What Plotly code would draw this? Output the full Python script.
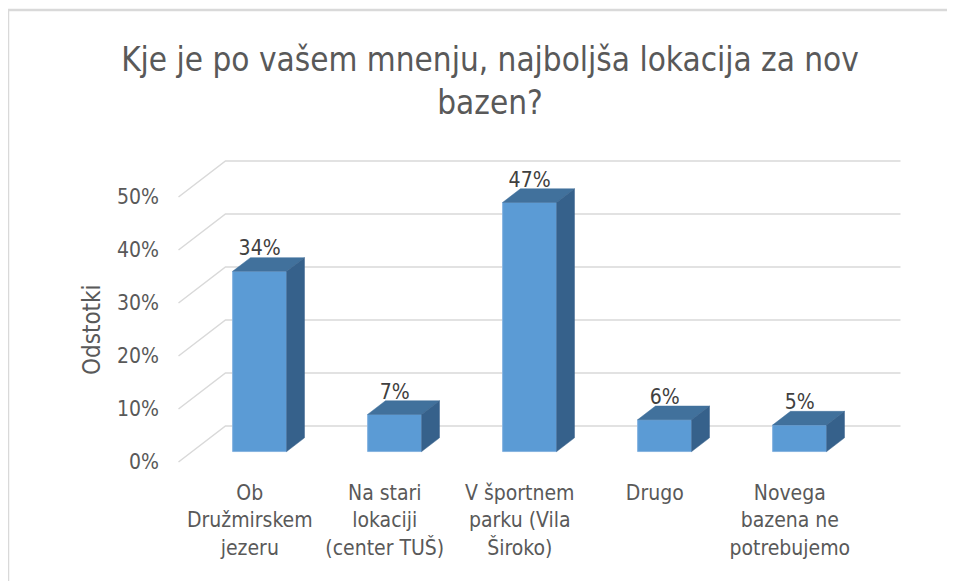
import plotly.graph_objects as go

# ---- data ----
categories = ["Ob<br>Družmirskem<br>jezeru",
              "Na stari<br>lokaciji<br>(center TUŠ)",
              "V športnem<br>parku (Vila<br>Široko)",
              "Drugo",
              "Novega<br>bazena ne<br>potrebujemo"]
values = [34, 7, 47, 6, 5]
tick_values = [0, 10, 20, 30, 40, 50]
tick_labels = ["0%", "10%", "20%", "30%", "40%", "50%"]
title_text = "Kje je po vašem mnenju, najboljša lokacija za nov<br>bazen?"
y_title = "Odstotki"

# ---- 3D geometry (in axis units) ----
DEPTH_X = 0.348      # full floor depth, x direction (category units)
DEPTH_Y = 6.8        # full floor depth, y direction (percent units)
F_FRONT = 0.29       # bar front face depth fraction
F_BACK = 0.67        # bar back face depth fraction
BAR_W = 0.40
X_LEFT, X_RIGHT = -0.5, 4.5
LABEL_SHIFT = 0.028  # category label offset (category units)

FONT = "Liberation Sans Narrow, Arial Narrow, DejaVu Sans Condensed, sans-serif"
GRID = "#D9D9D9"
TXT = "#595959"

fig = go.Figure()

# side wall diagonals + back wall horizontal gridlines
gx, gy = [], []
for v in tick_values:
    gx += [X_LEFT, X_LEFT + DEPTH_X, X_RIGHT + DEPTH_X, None]
    gy += [v, v + DEPTH_Y, v + DEPTH_Y, None]
fig.add_trace(go.Scatter(x=gx, y=gy, mode="lines",
                         line=dict(color=GRID, width=1.5),
                         hoverinfo="skip", showlegend=False))

ox = F_FRONT * DEPTH_X
oy = F_FRONT * DEPTH_Y
dx = (F_BACK - F_FRONT) * DEPTH_X
dy = (F_BACK - F_FRONT) * DEPTH_Y

xs = [i + ox for i in range(len(values))]

# front, top and side faces
fx, fy, tx, ty, sx, sy = [], [], [], [], [], []
for xc, v in zip(xs, values):
    xl, xr = xc - BAR_W / 2, xc + BAR_W / 2
    top = oy + v
    fx += [xl, xr, xr, xl, xl, None]
    fy += [oy, oy, top, top, oy, None]
    tx += [xl, xr, xr + dx, xl + dx, xl, None]
    ty += [top, top, top + dy, top + dy, top, None]
    sx += [xr, xr + dx, xr + dx, xr, xr, None]
    sy += [oy, oy + dy, top + dy, top, oy, None]
fig.add_trace(go.Scatter(x=fx, y=fy, mode="lines", fill="toself",
                         fillcolor="#5B9BD5", line=dict(color="#86B3E0", width=1),
                         hoverinfo="skip", showlegend=False))
fig.add_trace(go.Scatter(x=tx, y=ty, mode="lines", fill="toself",
                         fillcolor="#41719C", line=dict(color="#41719C", width=0.5),
                         hoverinfo="skip", showlegend=False))
fig.add_trace(go.Scatter(x=sx, y=sy, mode="lines", fill="toself",
                         fillcolor="#36618B", line=dict(color="#36618B", width=0.5),
                         hoverinfo="skip", showlegend=False))

# data labels
fig.add_trace(go.Scatter(x=xs, y=[oy + v + dy + 1.4 for v in values], mode="text",
                         text=[f"{v}%" for v in values], textposition="middle center",
                         textfont=dict(family=FONT, size=21, color="#404040"),
                         hoverinfo="skip", showlegend=False))

# page has an 8px body margin; figure placed at (8, 8)
OFF = 8
W, H = 955 - OFF, 581 - OFF
# plot area in page px: x 170..910, y 150..470
L, R, T, B = 170 - OFF, W - (910 - OFF), 150 - OFF, H - (470 - OFF)
pw, ph = W - L - R, H - T - B

def px(xp):  # page x -> paper
    return (xp - OFF - L) / pw

def py(yp):  # page y -> paper
    return (H - B - (yp - OFF)) / ph

fig.update_layout(
    width=W, height=H, autosize=False,
    margin=dict(l=L, r=R, t=T, b=B, pad=0),
    paper_bgcolor="white", plot_bgcolor="white",
    font=dict(family=FONT, color=TXT),
    title=dict(text=title_text, x=(490 - OFF) / W, xref="container", xanchor="center",
               y=1 - 63 / H, yref="container", yanchor="top",
               font=dict(family=FONT, size=33, color=TXT)),
    xaxis=dict(range=[(170 - 246) / 135, (910 - 246) / 135],
               tickmode="array", tickvals=[i + LABEL_SHIFT for i in range(len(categories))],
               ticktext=categories,
               tickfont=dict(family=FONT, size=21, color=TXT),
               ticklabelstandoff=8,
               showgrid=False, zeroline=False, showline=False, ticks="",
               fixedrange=True),
    yaxis=dict(range=[(462 - 470) / 5.3, (462 - 150) / 5.3],
               tickmode="array", tickvals=tick_values, ticktext=tick_labels,
               tickfont=dict(family=FONT, size=21, color=TXT),
               ticklabelstandoff=10,
               showgrid=False, zeroline=False, showline=False, ticks="",
               fixedrange=True),
    annotations=[
        dict(text=y_title, xref="paper", yref="paper", x=px(92), y=py(330),
             xanchor="center", yanchor="middle", textangle=-90, showarrow=False,
             font=dict(family=FONT, size=24, color=TXT)),
    ],
    shapes=[
        dict(type="line", xref="paper", yref="paper", x0=px(7), x1=px(960), y0=py(10), y1=py(10),
             line=dict(color="#D9D9D9", width=2.5)),
        dict(type="line", xref="paper", yref="paper", x0=px(8), x1=px(8), y0=py(10), y1=py(590),
             line=dict(color="#D9D9D9", width=2.5)),
    ],
)

fig.write_html("out.html", config={"displayModeBar": False})
